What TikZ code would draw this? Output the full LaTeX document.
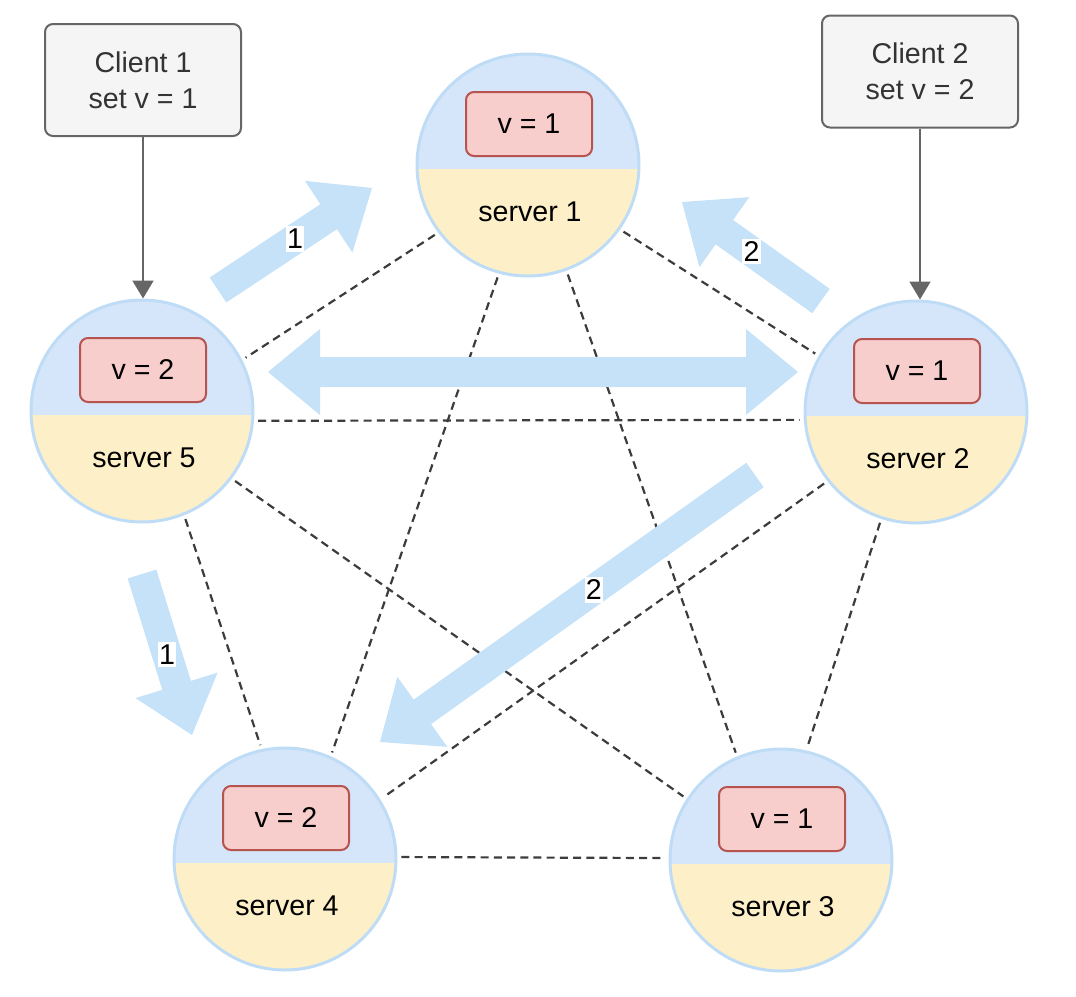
\documentclass[tikz,border=0pt]{standalone}
\usepackage{fontspec}
\setmainfont{Liberation Sans}
\usetikzlibrary{calc,arrows.meta}
\definecolor{topfill}{HTML}{D5E6FB}
\definecolor{botfill}{HTML}{FDF0C8}
\definecolor{circborder}{HTML}{BFDCF6}
\definecolor{pinkfill}{HTML}{F8CECC}
\definecolor{pinkdraw}{HTML}{B85450}
\definecolor{clientfill}{HTML}{F5F5F5}
\definecolor{clientdraw}{HTML}{666666}
\definecolor{clienttext}{HTML}{333333}
\definecolor{arrowblue}{HTML}{C5E2F9}
\definecolor{dashcol}{HTML}{3C3C3C}
\tikzset{
  txt/.style={font=\fontsize{14.3}{18}\selectfont},
  server/.style={circle, draw=circborder, line width=1.5pt, minimum size=111pt, inner sep=0pt,
    path picture={
      \fill[topfill] (path picture bounding box.north west) rectangle ([yshift=-1.75pt]path picture bounding box.east);
      \fill[botfill] ([yshift=-1.75pt]path picture bounding box.west) rectangle (path picture bounding box.south east);
    }},
  valbox/.style={txt, rectangle, rounded corners=4pt, draw=pinkdraw, fill=pinkfill, line width=1pt,
    minimum width=63pt, minimum height=32pt, inner sep=0pt},
  srvtext/.style={txt, inner sep=0pt},
  client/.style={txt, rectangle, rounded corners=4pt, draw=clientdraw, fill=clientfill, line width=1pt,
    minimum width=98pt, minimum height=56pt, align=center, text=clienttext},
  peer/.style={draw=dashcol, line width=1.1pt, dash pattern=on 4pt off 2.6pt, shorten <=2pt, shorten >=2pt},
  req/.style={draw=clientdraw, line width=1pt, -{Triangle[width=10.5pt,length=9pt]}},
  fat/.style={fill=arrowblue},
  lbl/.style={txt, fill=white, inner xsep=0.6pt, inner ysep=1.5pt},
}
\newcommand{\fatarrow}[2]{%
  \coordinate (#2n) at ($(#2)!26pt!(#1)$);
  \fill[fat] ($(#1)!7.5pt!90:(#2)$) -- ($(#2n)!7.5pt!90:(#2)$) -- ($(#2n)!21.5pt!90:(#2)$) -- (#2)
    -- ($(#2n)!21.5pt!-90:(#2)$) -- ($(#2n)!7.5pt!-90:(#2)$) -- ($(#1)!7.5pt!-90:(#2)$) -- cycle;}
\begin{document}
\begin{tikzpicture}[x=0.5pt, y=-0.5pt]
\useasboundingbox (0,0) rectangle (1076,996);
% servers
\node[server] (s1) at (528,165) {};
\node[server] (s5) at (142,411) {};
\node[server] (s2) at (916,412) {};
\node[server] (s4) at (285,859) {};
\node[server] (s3) at (781,860) {};
\foreach \s/\v/\n in {s1/1/1, s2/1/2, s3/1/3, s4/2/4, s5/2/5}{
  \node[valbox] (v\n) at ($(\s)+(1,-41)$) {v = \v};
  \node[srvtext] (t\n) at ($(\s)+(2,47)$) {server \n};
}
% clients
\node[client] (c1) at (143,80) {Client 1\\set v = 1};
\node[client] (c2) at (920,71.5) {Client 2\\set v = 2};
% peer links
\draw[peer] (s1.217) -- (s5.27.4);
\draw[peer] (s1.-35) -- (s2.150.9);
\draw[peer] (s1.-105.7) -- (s4.66.1);
\draw[peer] (s1.-70) -- (s3.113.7);
\draw[peer] (s5.-5) -- (s2.184.9);
\draw[peer] (s5.-37.7) -- (s3.147.3);
\draw[peer] (s5.-68.9) -- (s4.102.6);
\draw[peer] (s2.218.6) -- (s4.32.5);
\draw[peer] (s2.252.2) -- (s3.77.2);
\draw[peer] (s4.1) -- (s3.179.5);
% client requests
\draw[req] (c1.south) -- (c1.south |- s5.north);
\draw[req] (c2.south) -- (c2.south |- s2.north);
% replication arrows
\coordinate (a1t) at (218,290); \coordinate (a1h) at (372,188);
\coordinate (a2t) at (821,301); \coordinate (a2h) at (682,202);
\coordinate (a3t) at (142,574); \coordinate (a3h) at (192,735);
\coordinate (a4t) at (755,475); \coordinate (a4h) at (380,742);
\fatarrow{a1t}{a1h}
\fatarrow{a2t}{a2h}
\fatarrow{a3t}{a3h}
\fatarrow{a4t}{a4h}
\coordinate (dl) at (268,372); \coordinate (dr) at (798,372);
\coordinate (dln) at ($(dl)!26pt!(dr)$); \coordinate (drn) at ($(dr)!26pt!(dl)$);
\fill[fat] (dl) -- ($(dln)!21.5pt!90:(dr)$) -- ($(dln)!7.5pt!90:(dr)$) -- ($(drn)!7.5pt!-90:(dl)$)
  -- ($(drn)!21.5pt!-90:(dl)$) -- (dr) -- ($(drn)!21.5pt!90:(dl)$) -- ($(drn)!7.5pt!90:(dl)$)
  -- ($(dln)!7.5pt!-90:(dr)$) -- ($(dln)!21.5pt!-90:(dr)$) -- cycle;
% labels
\path (a1t) -- node[lbl, pos=0.5] (l1) {1} (a1h);
\path (a2t) -- node[lbl, pos=0.5] (l2) {2} (a2h);
\path (a3t) -- node[lbl, pos=0.5] (l3) {1} (a3h);
\path (a4t) -- node[lbl, pos=0.43] (l4) {2} (a4h);
\end{tikzpicture}
\end{document}
